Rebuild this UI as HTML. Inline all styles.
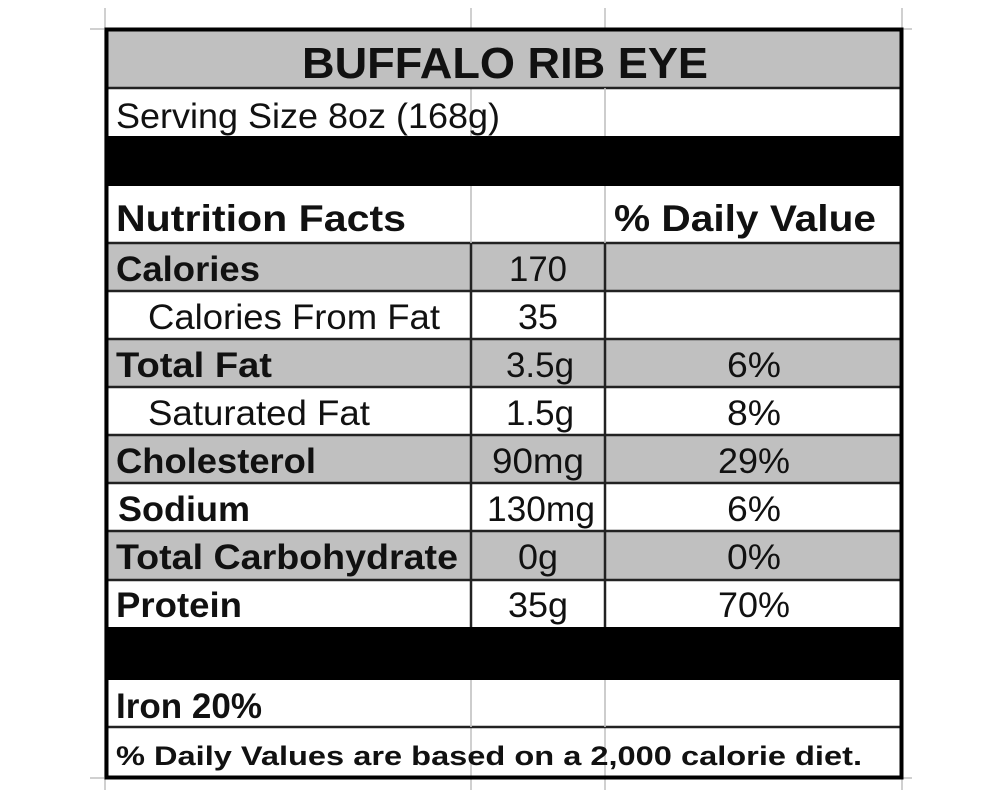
<!DOCTYPE html>
<html><head><meta charset="utf-8"><style>
html,body{margin:0;padding:0;background:#fff;width:1000px;height:800px;overflow:hidden}
svg{display:block}
text{font-family:"Liberation Sans",Arial,sans-serif;fill:#111}
.b{font-weight:bold}
</style></head><body>
<svg width="1000" height="800" viewBox="0 0 1000 800">
<g stroke="#d0d0d0" stroke-width="2">
<line x1="105" y1="8" x2="105" y2="790"/>
<line x1="471" y1="8" x2="471" y2="790"/>
<line x1="605" y1="8" x2="605" y2="790"/>
<line x1="902" y1="8" x2="902" y2="790"/>
<line x1="90" y1="29" x2="912" y2="29"/>
<line x1="90" y1="778" x2="912" y2="778"/>
</g>
<g fill="#c0c0c0">
<rect x="105" y="29" width="797" height="59"/>
<rect x="105" y="243" width="797" height="48"/>
<rect x="105" y="339" width="797" height="48"/>
<rect x="105" y="435" width="797" height="48"/>
<rect x="105" y="531" width="797" height="49"/>
</g>
<rect x="105" y="136" width="797" height="50" fill="#000"/>
<rect x="105" y="627" width="797" height="53" fill="#000"/>
<g stroke="#222" stroke-width="2.5">
<line x1="105" y1="88" x2="902" y2="88"/>
<line x1="105" y1="243" x2="902" y2="243"/>
<line x1="105" y1="291" x2="902" y2="291"/>
<line x1="105" y1="339" x2="902" y2="339"/>
<line x1="105" y1="387" x2="902" y2="387"/>
<line x1="105" y1="435" x2="902" y2="435"/>
<line x1="105" y1="483" x2="902" y2="483"/>
<line x1="105" y1="531" x2="902" y2="531"/>
<line x1="105" y1="580" x2="902" y2="580"/>
<line x1="105" y1="727" x2="902" y2="727"/>
<line x1="471" y1="243" x2="471" y2="627"/>
<line x1="605" y1="243" x2="605" y2="627"/>
</g>
<g stroke="#ccc" stroke-width="1.5">
<line x1="605" y1="88" x2="605" y2="136"/>
<line x1="471" y1="186" x2="471" y2="243"/>
<line x1="605" y1="186" x2="605" y2="243"/>
<line x1="471" y1="680" x2="471" y2="727"/>
<line x1="605" y1="680" x2="605" y2="727"/>
</g>
<rect x="106.5" y="29.5" width="795" height="748" fill="none" stroke="#000" stroke-width="4"/>
<text class="b" x="302" y="78" font-size="44" textLength="406" lengthAdjust="spacingAndGlyphs">BUFFALO RIB EYE</text>
<text x="116" y="128" font-size="35" textLength="384" lengthAdjust="spacingAndGlyphs">Serving Size 8oz (168g)</text>
<text class="b" x="116" y="231" font-size="37" textLength="290" lengthAdjust="spacingAndGlyphs">Nutrition Facts</text>
<text class="b" x="614" y="231" font-size="37" textLength="262" lengthAdjust="spacingAndGlyphs">% Daily Value</text>

<text class="b" x="116" y="281" font-size="35" textLength="144" lengthAdjust="spacingAndGlyphs">Calories</text>
<text x="148" y="329" font-size="35" textLength="292" lengthAdjust="spacingAndGlyphs">Calories From Fat</text>
<text class="b" x="116" y="377" font-size="35" textLength="156" lengthAdjust="spacingAndGlyphs">Total Fat</text>
<text x="148" y="425" font-size="35" textLength="222" lengthAdjust="spacingAndGlyphs">Saturated Fat</text>
<text class="b" x="116" y="473" font-size="35" textLength="200" lengthAdjust="spacingAndGlyphs">Cholesterol</text>
<text class="b" x="118" y="521" font-size="35" textLength="132" lengthAdjust="spacingAndGlyphs">Sodium</text>
<text class="b" x="116" y="569" font-size="35" textLength="342" lengthAdjust="spacingAndGlyphs">Total Carbohydrate</text>
<text class="b" x="116" y="617" font-size="35" textLength="126" lengthAdjust="spacingAndGlyphs">Protein</text>

<g text-anchor="middle" font-size="35">
<text x="538" y="281" textLength="58" lengthAdjust="spacingAndGlyphs">170</text>
<text x="538" y="329" textLength="40" lengthAdjust="spacingAndGlyphs">35</text>
<text x="540" y="377" textLength="68" lengthAdjust="spacingAndGlyphs">3.5g</text>
<text x="540" y="425" textLength="68" lengthAdjust="spacingAndGlyphs">1.5g</text>
<text x="538" y="473" textLength="92" lengthAdjust="spacingAndGlyphs">90mg</text>
<text x="541" y="521" textLength="108" lengthAdjust="spacingAndGlyphs">130mg</text>
<text x="538" y="569" textLength="40" lengthAdjust="spacingAndGlyphs">0g</text>
<text x="538" y="617" textLength="60" lengthAdjust="spacingAndGlyphs">35g</text>
<text x="754" y="377" textLength="54" lengthAdjust="spacingAndGlyphs">6%</text>
<text x="754" y="425" textLength="54" lengthAdjust="spacingAndGlyphs">8%</text>
<text x="754" y="473" textLength="72" lengthAdjust="spacingAndGlyphs">29%</text>
<text x="754" y="521" textLength="54" lengthAdjust="spacingAndGlyphs">6%</text>
<text x="754" y="569" textLength="54" lengthAdjust="spacingAndGlyphs">0%</text>
<text x="754" y="617" textLength="72" lengthAdjust="spacingAndGlyphs">70%</text>
</g>
<text class="b" x="116" y="718" font-size="35" textLength="146" lengthAdjust="spacingAndGlyphs">Iron 20%</text>
<text class="b" x="116" y="765" font-size="27" textLength="746" lengthAdjust="spacingAndGlyphs">% Daily Values are based on a 2,000 calorie diet.</text>
</svg>
</body></html>
